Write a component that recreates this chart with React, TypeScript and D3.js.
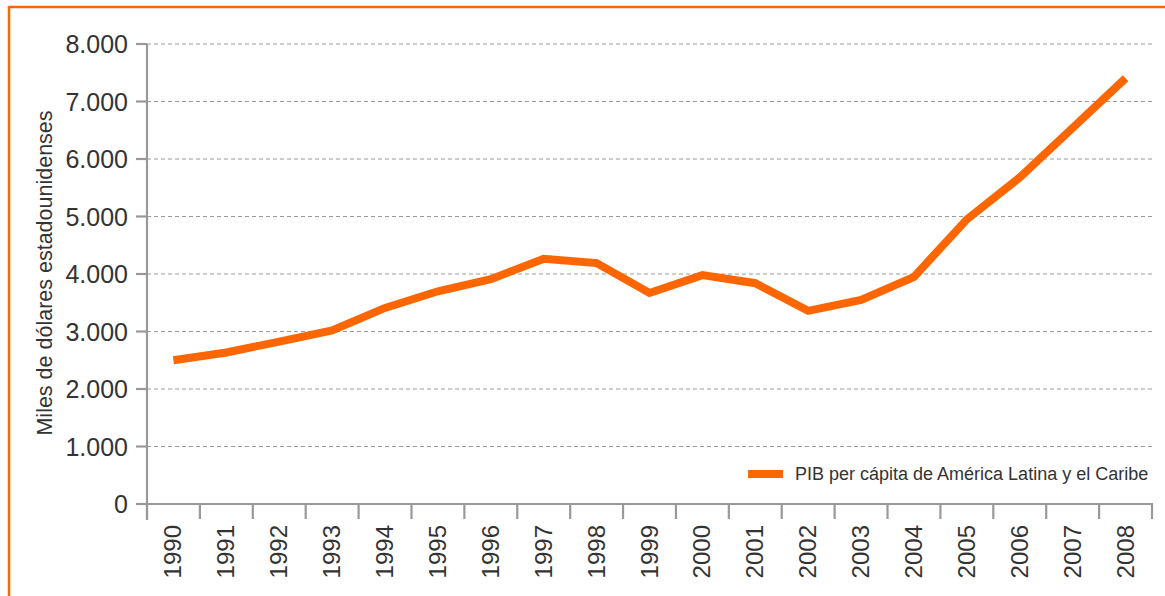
import React from "react";
import * as d3 from "d3";

const years = ["1990","1991","1992","1993","1994","1995","1996","1997","1998","1999","2000","2001","2002","2003","2004","2005","2006","2007","2008"];
const pib = [2500, 2635, 2825, 3020, 3410, 3700, 3910, 4265, 4190, 3670, 3980, 3840, 3360, 3550, 3950, 4950, 5680, 6540, 7405];
const yTicks = [0, 1000, 2000, 3000, 4000, 5000, 6000, 7000, 8000];
const yTitle = "Miles de dólares estadounidenses";
const legendLabel = "PIB per cápita de América Latina y el Caribe";

const W = 1165, H = 596;
const left = 147, right = 1152, top = 44, bottom = 504;
const ORANGE = "#FF6600";
const AXIS = "#999999";
const TEXT = "#333333";
const FONT = "'Liberation Sans', Arial, sans-serif";

const fmt = (v: number) => (v === 0 ? "0" : d3.format(",")(v).replace(/,/g, "."));

export default function App() {
  const x = d3.scaleBand<string>().domain(years).range([left, right]).padding(0);
  const y = d3.scaleLinear().domain([0, 8000]).range([bottom, top]);
  const line = d3
    .line<number>()
    .x((_, i) => (x(years[i]) as number) + x.bandwidth() / 2)
    .y((d) => y(d));
  const bounds = [left, ...years.map((yr) => (x(yr) as number) + x.bandwidth())];

  return (
    <svg width={W} height={H} style={{ position: "absolute", left: 0, top: 0, display: "block" }}>
      <rect x={0} y={0} width={W} height={H} fill="#fff" />
      {/* frame */}
      <line x1={9} x2={W} y1={7} y2={7} stroke={ORANGE} strokeWidth={2.5} />
      <line x1={9} x2={9} y1={6} y2={H} stroke={ORANGE} strokeWidth={2.5} />

      {/* grid */}
      {yTicks.filter((t) => t > 0).map((t) => (
        <line key={"g" + t} x1={left} x2={right + 1} y1={y(t)} y2={y(t)} stroke="#9a9a9a" strokeWidth={1} strokeDasharray="4,3" />
      ))}

      {/* y axis */}
      <line x1={left} x2={left} y1={top} y2={bottom + 16} stroke={AXIS} strokeWidth={2.2} />
      {yTicks.map((t) => (
        <g key={"yt" + t}>
          <line x1={136} x2={left} y1={y(t)} y2={y(t)} stroke={AXIS} strokeWidth={2.2} />
          <text x={128} y={y(t)} dy="0.36em" textAnchor="end" fontFamily={FONT} fontSize={25} fill={TEXT}>
            {fmt(t)}
          </text>
        </g>
      ))}

      {/* x axis */}
      <line x1={left} x2={right + 1} y1={bottom} y2={bottom} stroke={AXIS} strokeWidth={2.2} />
      {bounds.map((b, i) => (
        <line key={"xt" + i} x1={b} x2={b} y1={bottom} y2={bottom + 15} stroke={AXIS} strokeWidth={2.2} />
      ))}
      {years.map((yr) => {
        const cx = (x(yr) as number) + x.bandwidth() / 2;
        return (
          <text key={"xl" + yr} transform={`translate(${cx + 8},525) rotate(-90)`} textAnchor="end" fontFamily={FONT} fontSize={24} fill={TEXT}>
            {yr}
          </text>
        );
      })}

      {/* y title */}
      <text transform={`translate(52,273) rotate(-90)`} textAnchor="middle" fontFamily={FONT} fontSize={21.5} fill={TEXT}>
        {yTitle}
      </text>

      {/* data line */}
      <path d={line(pib) || ""} fill="none" stroke={ORANGE} strokeWidth={8} strokeLinejoin="miter" />

      {/* legend */}
      <line x1={748} x2={783} y1={474} y2={474} stroke={ORANGE} strokeWidth={8} />
      <text x={795} y={474} dy="0.35em" fontFamily={FONT} fontSize={18} fill={TEXT}>
        {legendLabel}
      </text>
    </svg>
  );
}
